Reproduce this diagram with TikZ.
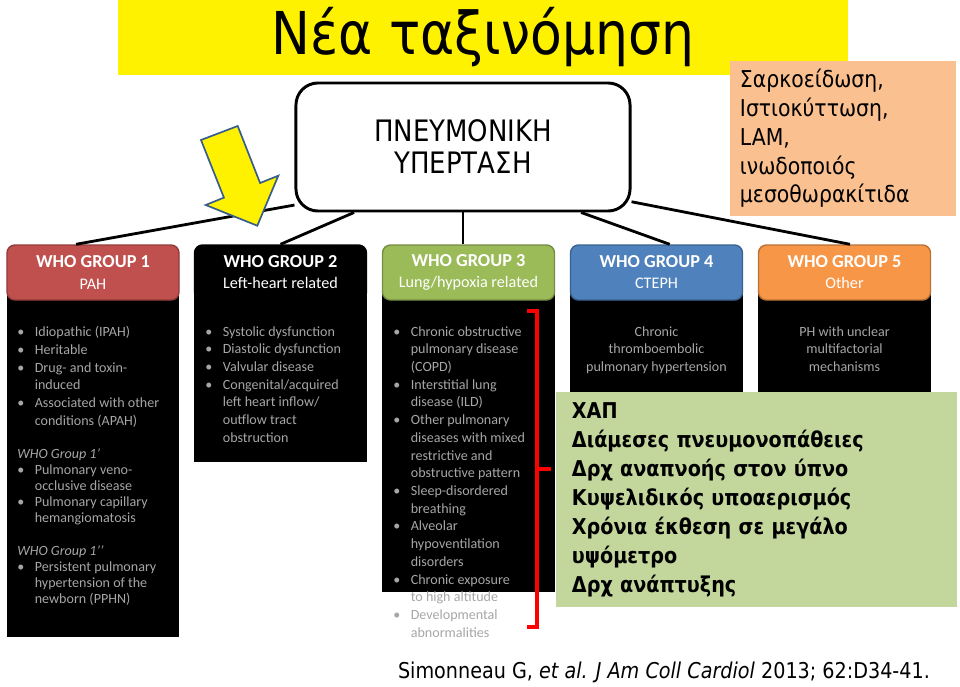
\documentclass[tikz,border=0pt]{standalone}
\usepackage{fontspec}
\setmainfont{Carlito}
\newfontfamily\comicfont[FakeStretch=0.88]{DejaVu Sans}

\definecolor{grpred}{HTML}{C0504D}
\definecolor{grpblack}{HTML}{000000}
\definecolor{grpgreen}{HTML}{9BBB59}
\definecolor{grpblue}{HTML}{4F81BD}
\definecolor{grporange}{HTML}{F79646}
\definecolor{lungbox}{HTML}{C3D69B}
\definecolor{otherbox}{HTML}{FAC090}
\definecolor{listgray}{RGB}{166,166,166}
\definecolor{arrowedge}{HTML}{385D8A}

\newcommand{\bl}{\makebox[12.5pt][l]{\textbullet}}
\newcommand{\nb}{\hspace*{12.5pt}}

\tikzset{
  grouphead/.style={draw=#1!75!black, fill=#1, line width=1pt, rounded corners=0.2cm,
    minimum width=4.3cm, minimum height=1.375cm, align=center, text=white,
    font=\fontsize{13}{15}\selectfont},
  groupbody/.style={fill=black, anchor=north, minimum width=4.3cm, inner sep=0pt},
  listtext/.style={anchor=north west, inner sep=0pt, text=listgray, align=left,
    font=\fontsize{10}{12.6}\selectfont},
  connector/.style={line width=2pt}
}

\begin{document}
\begin{tikzpicture}[x=0.025cm, y=-0.025cm]
    \useasboundingbox (0, 0) rectangle (960, 686);
    \node[fill=yellow, minimum width=18.25cm, minimum height=1.875cm, inner sep=0pt,
      font=\comicfont\fontsize{42}{48}\selectfont] (Title) at (483, 37.5) {Νέα ταξινόμηση};
    \node[fill=otherbox, minimum height=3.875cm, text width=5.15cm, inner xsep=0.25cm, align=left,
      font=\comicfont\fontsize{16.5}{20.4}\selectfont] (Other Box) at (843, 138.5)
      {Σαρκοείδωση,\\Ιστιοκύττωση,\\LAM,\\ινωδοποιός\\μεσοθωρακίτιδα};
    \node[draw, fill=white, line width=2.1pt, rounded corners=0.55cm, minimum width=8.35cm,
      minimum height=3.2cm, align=center, font=\comicfont\fontsize{21}{22.8}\selectfont]
      (PH) at (463, 147) {ΠΝΕΥΜΟΝΙΚΗ\\ΥΠΕΡΤΑΣΗ};

    \node[groupbody, minimum height=8.675cm] (Group 1 Body) at (93, 290) {};
    \node[groupbody, minimum height=4.3cm] (Group 2 Body) at (280.5, 290) {};
    \node[groupbody, minimum height=7.55cm] (Group 3 Body) at (468.5, 290) {};
    \node[groupbody, minimum height=2.75cm] (Group 4 Body) at (656.5, 290) {};
    \node[groupbody, minimum height=2.75cm] (Group 5 Body) at (844.5, 290) {};

    \node[grouphead=grpred] (Group 1) at (93, 272.5)
      {\textbf{WHO GROUP 1}\\{\fontsize{11.5}{15}\selectfont PAH}};
    \node[grouphead=grpblack] (Group 2) at (280.5, 272.5)
      {\textbf{WHO GROUP 2}\\{\fontsize{11.5}{15}\selectfont Left-heart related}};
    \node[grouphead=grpgreen] (Group 3) at (468.5, 272.5)
      {\textbf{WHO GROUP 3}\\{\fontsize{11.5}{15}\selectfont Lung/hypoxia related}};
    \node[grouphead=grpblue] (Group 4) at (656.5, 272.5)
      {\textbf{WHO GROUP 4}\\{\fontsize{11.5}{15}\selectfont CTEPH}};
    \node[grouphead=grporange] (Group 5) at (844.5, 272.5)
      {\textbf{WHO GROUP 5}\\{\fontsize{11.5}{15}\selectfont Other}};

    \draw[connector] (PH.199) -- (Group 1.121);
    \draw[connector] (PH.211) -- (Group 2.north);
    \draw[connector] (PH.south) -- (PH.south |- Group 3.north);
    \draw[connector] (PH.331) -- (Group 4.65);
    \draw[connector] (PH.342) -- (Group 5.79);

    \node[listtext] (Group 1 List) at (17, 326)
      {\bl Idiopathic (IPAH)\\\bl Heritable\\\bl Drug- and toxin-\\\nb induced\\
       \bl Associated with other\\\nb conditions (APAH)};
    \node[listtext, font=\fontsize{10}{11.4}\selectfont] (Group 1 Prime) at (17, 448)
      {\textit{WHO Group 1’}\\\bl Pulmonary veno-\\\nb occlusive disease\\
       \bl Pulmonary capillary\\\nb hemangiomatosis};
    \node[listtext, font=\fontsize{10}{11.4}\selectfont] (Group 1 Second) at (17, 545)
      {\textit{WHO Group 1’’}\\\bl Persistent pulmonary\\\nb hypertension of the\\\nb newborn (PPHN)};
    \node[listtext] (Group 2 List) at (205, 326)
      {\bl Systolic dysfunction\\\bl Diastolic dysfunction\\\bl Valvular disease\\
       \bl Congenital/acquired\\\nb left heart inflow/\\\nb outflow tract\\\nb obstruction};

    \node[fill=lungbox, minimum width=10.025cm, minimum height=5.375cm, text width=9.225cm,
      inner xsep=0.4cm, align=left, font=\comicfont\bfseries\fontsize{15.5}{20.6}\selectfont]
      (Lung Box) at (756.5, 499.5)
      {ΧΑΠ\\Διάμεσες πνευμονοπάθειες\\Δρχ αναπνοής στον ύπνο\\Κυψελιδικός υποαερισμός\\
       Χρόνια έκθεση σε μεγάλο\\υψόμετρο\\Δρχ ανάπτυξης};

    \node[listtext] (Group 3 List) at (393, 326)
      {\bl Chronic obstructive\\\nb pulmonary disease\\\nb (COPD)\\\bl Interstitial lung\\
       \nb disease (ILD)\\\bl Other pulmonary\\\nb diseases with mixed\\\nb restrictive and\\
       \nb obstructive pattern\\\bl Sleep-disordered\\\nb breathing\\\bl Alveolar\\
       \nb hypoventilation\\\nb disorders\\\bl Chronic exposure\\\nb to high altitude\\
       \bl Developmental\\\nb abnormalities};
    \node[listtext, anchor=north, align=center] (Group 4 List) at (656.5, 326)
      {Chronic\\thromboembolic\\pulmonary hypertension};
    \node[listtext, anchor=north, align=center] (Group 5 List) at (844.5, 326)
      {PH with unclear\\multifactorial\\mechanisms};

    \draw[red, line width=2.8pt] (527, 311) -- (537, 311) -- (537, 627) -- (527, 627);
    \draw[red, line width=2.8pt] (537, 469) -- (551, 469);

    \draw[fill=yellow, draw=arrowedge, line width=1.2pt] (201, 140) -- (223.9, 197.6)
      -- (205.7, 205) -- (257.3, 225.7) -- (278.3, 175.7) -- (260.1, 183) -- (237.7, 126) -- cycle;

    \node[font=\comicfont\fontsize{15.5}{18}\selectfont] (Reference) at (664, 672)
      {Simonneau G, \textit{et al. J Am Coll Cardiol} 2013; 62:D34-41.};
\end{tikzpicture}
\end{document}
